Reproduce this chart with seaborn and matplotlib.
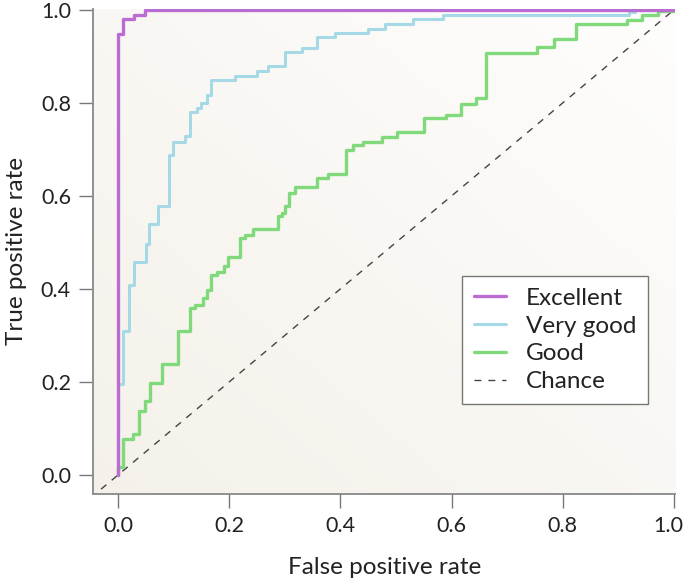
import numpy as np
import matplotlib
matplotlib.use("Agg")
import matplotlib.pyplot as plt
import matplotlib.transforms as mtransforms
import seaborn as sns

# ROC curves (step corners: right to fpr, then up to tpr)
excellent_fpr = [0.0, 0.0, 0.008, 0.028, 0.049, 1.0]
excellent_tpr = [0.0, 0.948, 0.98, 0.99, 1.0, 1.0]

very_good_fpr = [0.0, 0.0, 0.008, 0.019, 0.029, 0.050, 0.056, 0.071, 0.092, 0.0995,
                 0.12, 0.1295, 0.1415, 0.15, 0.16, 0.167, 0.21, 0.249, 0.27, 0.30,
                 0.33, 0.358, 0.39, 0.449, 0.48, 0.531, 0.585, 0.92, 0.93, 1.0]
very_good_tpr = [0.0, 0.196, 0.31, 0.408, 0.457, 0.497, 0.54, 0.578, 0.688, 0.717,
                 0.73, 0.781, 0.79, 0.80, 0.818, 0.849, 0.858, 0.869, 0.88, 0.91,
                 0.919, 0.941, 0.95, 0.96, 0.969, 0.98, 0.989, 0.996, 1.0, 1.0]

good_fpr = [0.0, 0.0, 0.008, 0.0276, 0.038, 0.0486, 0.0576, 0.0786, 0.107, 0.1295,
            0.1385, 0.152, 0.16, 0.168, 0.178, 0.19, 0.198, 0.219, 0.228, 0.242,
            0.288, 0.295, 0.30, 0.3075, 0.318, 0.358, 0.378, 0.41, 0.422, 0.44,
            0.474, 0.501, 0.55, 0.59, 0.617, 0.644, 0.662, 0.753, 0.784, 0.824,
            0.915, 0.942, 0.972, 1.0]
good_tpr = [0.0, 0.016, 0.077, 0.0875, 0.138, 0.158, 0.197, 0.239, 0.31, 0.358,
            0.366, 0.381, 0.397, 0.43, 0.437, 0.449, 0.469, 0.509, 0.516, 0.528,
            0.557, 0.564, 0.578, 0.607, 0.62, 0.638, 0.648, 0.699, 0.709, 0.717,
            0.726, 0.738, 0.768, 0.775, 0.797, 0.811, 0.908, 0.921, 0.937, 0.969,
            0.978, 0.989, 0.998, 1.0]

chance = [-0.05, 1.0]

ticks = [0.0, 0.2, 0.4, 0.6, 0.8, 1.0]
tick_labels = ["0.0", "0.2", "0.4", "0.6", "0.8", "1.0"]

sns.set_style("ticks")
plt.rcParams["font.family"] = ["Lato", "DejaVu Sans"]

fig = plt.figure(figsize=(6.85, 5.79), dpi=100)
ax = fig.add_axes([0.136, 0.147, 0.850, 0.838])

xlim = (-0.045, 1.003)
ylim = (-0.041, 1.003)

# soft beige gradient behind the plot
gx, gy = np.meshgrid(np.linspace(0, 1, 200), np.linspace(0, 1, 200))
g = (gx + gy) / 2
c0 = np.array([0.960, 0.945, 0.918])
c1 = np.array([0.997, 0.995, 0.990])
img = c0[None, None, :] * (1 - g[..., None]) + c1[None, None, :] * g[..., None]
ax.imshow(img, extent=[xlim[0], xlim[1], ylim[0], ylim[1]], origin="lower",
          aspect="auto", zorder=0)

sns.lineplot(x=chance, y=chance, ax=ax, color="#444444", lw=1.0,
             linestyle=(0, (5, 5)), label="Chance", zorder=2)
sns.lineplot(x=good_fpr, y=good_tpr, ax=ax, sort=False, estimator=None,
             color="#80d97a", lw=2.4, drawstyle="steps-post", label="Good", zorder=3)
sns.lineplot(x=very_good_fpr, y=very_good_tpr, ax=ax, sort=False, estimator=None,
             color="#a6d9e7", lw=2.2, drawstyle="steps-post", label="Very good", zorder=4)
sns.lineplot(x=excellent_fpr, y=excellent_tpr, ax=ax, sort=False, estimator=None,
             color="#bb6cd3", lw=2.4, drawstyle="steps-post", label="Excellent", zorder=5)

ax.set_xlim(*xlim)
ax.set_ylim(*ylim)
ax.set_xticks(ticks)
ax.set_xticklabels(tick_labels)
ax.set_yticks(ticks)
ax.set_yticklabels(tick_labels)
ax.tick_params(axis="both", length=10, width=1.0, color="#777777",
               labelsize=15.5, labelcolor="#222222", pad=6)

# nudge the last x tick label so it stays inside the canvas
last = ax.get_xticklabels()[-1]
last.set_transform(last.get_transform() +
                   mtransforms.ScaledTranslation(-5 / 100, 0, fig.dpi_scale_trans))

for s in ["top", "right"]:
    ax.spines[s].set_visible(False)
for s in ["left", "bottom"]:
    ax.spines[s].set_color("#888888")
    ax.spines[s].set_linewidth(1.3)

ax.set_xlabel("False positive rate", fontsize=17.5, color="#222222", labelpad=15)
ax.set_ylabel("True positive rate", fontsize=17.5, color="#222222", labelpad=10)

handles, labels = ax.get_legend_handles_labels()
order = [labels.index(n) for n in ["Excellent", "Very good", "Good", "Chance"]]
leg = ax.legend([handles[i] for i in order], [labels[i] for i in order],
                loc="upper left", bbox_to_anchor=(0.634, 0.45), borderaxespad=0,
                frameon=True, fancybox=False, framealpha=1.0, edgecolor="#777777",
                fontsize=17.5, handlelength=1.3, handletextpad=0.8,
                labelspacing=0.28, borderpad=0.5)
leg.get_frame().set_linewidth(1.0)
for t in leg.get_texts():
    t.set_color("#222222")

fig.savefig("out.png", dpi=100)
